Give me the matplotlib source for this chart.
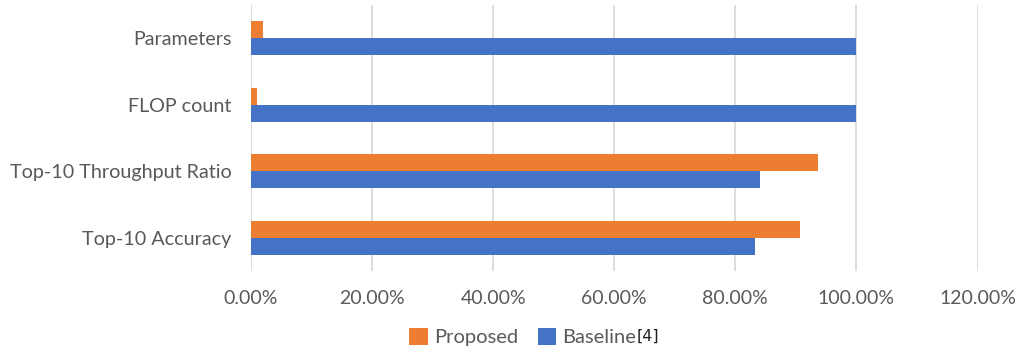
import matplotlib
matplotlib.use("Agg")
import matplotlib.pyplot as plt
import numpy as np
from matplotlib.ticker import FuncFormatter

categories = ["Parameters", "FLOP count", "Top-10 Throughput Ratio", "Top-10 Accuracy"]
proposed = [1.9, 1.0, 93.6, 90.6]
baseline = [100.0, 100.0, 84.0, 83.3]
x_ticks = [0, 20, 40, 60, 80, 100, 120]

ORANGE = "#ED7D31"
BLUE = "#4472C4"
TEXT = "#595959"
GRID = "#D9D9D9"

plt.rcParams["font.family"] = ["Lato", "DejaVu Sans"]

fig = plt.figure(figsize=(10.15, 3.47), dpi=100)
ax = fig.add_axes([0.2473, 0.219, 0.7158, 0.7666])

y = np.arange(len(categories))
h = 0.256
ax.barh(y - h / 2, proposed, height=h, color=ORANGE, label="Proposed", zorder=3)
ax.barh(y + h / 2, baseline, height=h, color=BLUE, label="Baseline", zorder=3)

ax.set_xlim(0, 120)
ax.set_ylim(3.5, -0.5)
ax.set_xticks(x_ticks)
ax.xaxis.set_major_formatter(FuncFormatter(lambda v, _: f"{v:.2f}%"))
ax.set_yticks(y)
ax.set_yticklabels(categories)
ax.grid(axis="x", color=GRID, linewidth=1.3, zorder=0)
for s in ax.spines.values():
    s.set_visible(False)
ax.tick_params(axis="y", length=0, labelsize=14.2, labelcolor=TEXT, pad=14)
ax.tick_params(axis="x", length=0, labelsize=14.0, labelcolor=TEXT, pad=14)

leg = fig.legend(loc="center", bbox_to_anchor=(0.515, 0.028), ncol=2, frameon=False,
                 fontsize=14.5, handlelength=0.9, handleheight=0.9, handletextpad=0.3,
                 columnspacing=1.0, labelcolor=TEXT)

fig.canvas.draw()
renderer = fig.canvas.get_renderer()
bb = leg.get_texts()[1].get_window_extent(renderer)
x0, y0 = fig.transFigure.inverted().transform((bb.x1, (bb.y0 + bb.y1) / 2))
fig.text(x0 + 0.001, y0 + 0.004, "[4]", fontsize=11.5, color="#222222",
         family=["DejaVu Sans"], va="center", ha="left")

fig.savefig("out.png", dpi=100)
